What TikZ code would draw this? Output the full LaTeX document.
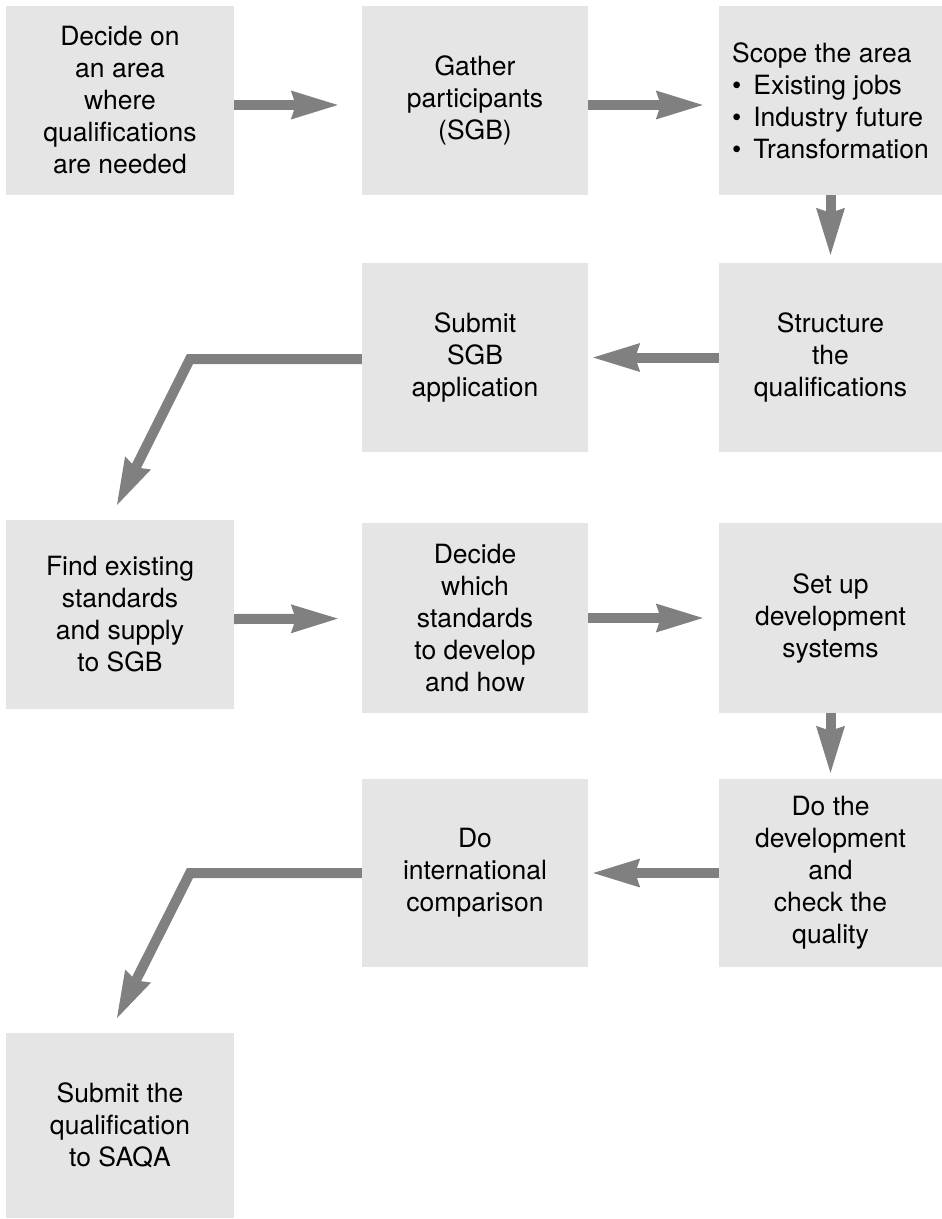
\documentclass[tikz,border=0pt]{standalone}
\usepackage{fontspec}
\setmainfont{TeX Gyre Heros}
\usetikzlibrary{arrows.meta,calc}
\definecolor{boxgray}{HTML}{E5E5E5}
\definecolor{arrgray}{HTML}{808080}
\newcommand{\bul}{\textbullet\hspace{0.45em}}
\tikzset{
  stepbox/.style={fill=boxgray, draw=none, inner sep=0pt, align=center,
    font=\fontsize{26.5}{32}\selectfont, text=black},
  arr/.style={draw=arrgray, line width=10pt, line join=miter,
    -{Stealth[length=47pt,width=29pt,inset=5pt,line width=0pt,fill=arrgray]}},
}
\begin{document}
\begin{tikzpicture}[x=1pt,y=-1pt]
\useasboundingbox (0,0) rectangle (942,1219);
% row 1
\node[stepbox, minimum width=228pt, minimum height=189pt] (b1) at (120,100.5)
  {Decide on\\an area\\where\\qualifications\\are needed};
\node[stepbox, minimum width=226pt, minimum height=189pt] (b2) at (475,100.5)
  {Gather\\participants\\(SGB)};
\node[stepbox, minimum width=223pt, minimum height=189pt, align=left] (b3) at (830.5,100.5)
  {Scope the area\\\bul Existing jobs\\\bul Industry future\\\bul Transformation};
% row 2
\node[stepbox, minimum width=226pt, minimum height=189pt] (b4) at (475,357.5)
  {Submit\\SGB\\application};
\node[stepbox, minimum width=223pt, minimum height=189pt] (b5) at (830.5,357.5)
  {Structure\\the\\qualifications};
% row 3
\node[stepbox, minimum width=228pt, minimum height=189pt] (b6) at (120,614.5)
  {Find existing\\standards\\and supply\\to SGB};
\node[stepbox, minimum width=226pt, minimum height=190pt] (b7) at (475,618)
  {Decide\\which\\standards\\to develop\\and how};
\node[stepbox, minimum width=223pt, minimum height=190pt] (b8) at (830.5,618)
  {Set up\\development\\systems};
% row 4
\node[stepbox, minimum width=226pt, minimum height=188pt] (b9) at (475,873)
  {Do\\international\\comparison};
\node[stepbox, minimum width=223pt, minimum height=188pt] (b10) at (830.5,873)
  {Do the\\development\\and\\check the\\quality};
% row 5
\node[stepbox, minimum width=228pt, minimum height=185pt] (b11) at (120,1125.5)
  {Submit the\\qualification\\to SAQA};
% connectors
\draw[arr, shorten >=24pt] ([yshift=-4.5pt]b1.east) -- ([yshift=-4.5pt]b2.west);
\draw[arr, shorten >=16pt] ([yshift=-4.5pt]b2.east) -- ([yshift=-4.5pt]b3.west);
\draw[arr, shorten >=8pt] (b3.south) -- (b5.north);
\draw[arr, shorten >=5pt] (b5.west) -- (b4.east);
\coordinate (k1) at (190,359);
\coordinate (t1) at (117,505);
\draw[arr] ([yshift=-1.5pt]b4.west) -- (k1) -- (t1);
\draw[arr, shorten >=24pt] ([yshift=-4.5pt]b6.east) -- ([yshift=-0.5pt]b7.west);
\draw[arr, shorten >=16pt] (b7.east) -- (b8.west);
\draw[arr, shorten >=6pt] (b8.south) -- (b10.north);
\draw[arr, shorten >=5pt] (b10.west) -- (b9.east);
\coordinate (k2) at (190,873);
\coordinate (t2) at (117,1018);
\draw[arr] (b9.west) -- (k2) -- (t2);
\end{tikzpicture}
\end{document}
